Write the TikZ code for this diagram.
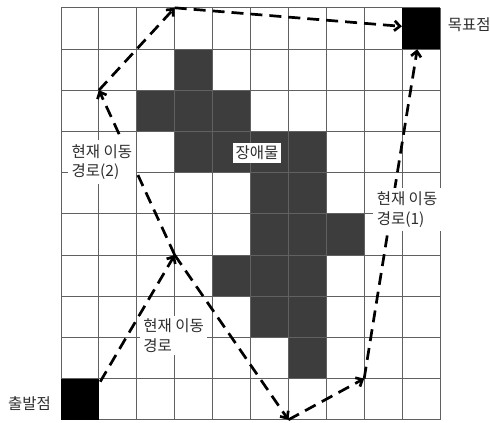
\documentclass[tikz,border=0pt]{standalone}
\usepackage{fontspec}
\newfontfamily\kofont{Noto Sans CJK KR}
\usetikzlibrary{calc,positioning,arrows.meta}
\tikzset{
   cell line/.style={draw=black!62, line width=0.9pt},
   obstacle/.style={fill=black!76},
   end cell/.style={ rectangle, fill=black, minimum width=37.9pt, minimum height=41.2pt, inner sep=0pt},
   path line/.style={->, line width=2.7pt, dash pattern=on 12pt off 7pt},
   tag/.style={ text=black!82, font=\kofont\fontsize{15.5}{19.5}\selectfont, align=left, inner sep=0pt},
   label box/.style={ tag, fill=white, inner sep=4pt},
   >={Straight Barb[length=5.5pt,width=10pt]}
}

\begin{document}
\begin{tikzpicture}[x=37.9pt,y=41.2pt]

  \useasboundingbox (-1.61,-0.073) rectangle (11.32,10.19);

  %% Obstacle cells (column/row counted from top left)
  \foreach \c/\r in {3/1, 2/2, 3/2, 4/2, 3/3, 4/3, 5/3, 6/3, 5/4, 6/4,
                     5/5, 6/5, 7/5, 4/6, 5/6, 6/6, 5/7, 6/7, 6/8}
    \fill[obstacle] (\c,{9-\r}) rectangle ++(1,1);

  %% Grid
  \foreach \i in {0,...,10} {
    \draw[cell line] (\i,0) -- (\i,10);
    \draw[cell line] (0,\i) -- (10,\i);
  }

  \node[end cell] at (0.5,0.5) (start) {};
  \node[end cell] at (9.5,9.5) (goal)  {};

  \node[tag] at (-0.83,0.39) (start label) {출발점};
  \node[tag] at (10.77,9.59) (goal label)  {목표점};

  \coordinate (cross) at (3,4);
  \coordinate (turn2a) at (1,8);
  \coordinate (turn2b) at (3,10);
  \coordinate (turn1a) at (6,0);
  \coordinate (turn1b) at (8,1);

  %% Current path
  \draw[path line] ($(start.north east)+(0.03,-0.08)$) -- (cross);

  %% Path (1)
  \draw[path line] (cross)  -- (turn1a);
  \draw[path line] (turn1a) -- (turn1b);
  \draw[path line] (turn1b) -- ($(goal.south)+(-0.1,0)$);

  %% Path (2)
  \draw[path line] (cross)  -- (turn2a);
  \draw[path line] (turn2a) -- (turn2b);
  \draw[path line] (turn2b) -- ($(goal.west)+(0,0.05)$);

  \node[label box, inner sep=3pt] at (5.17,6.48) (obstacle label) {장애물};
  \node[label box] at (1.08,6.26)  (path2 label) {현재 이동\\경로(2)};
  \node[label box] at (9.13,5.10)  (path1 label) {현재 이동\\경로(1)};
  \node[label box, inner sep=3pt] at (2.97,2.04) (path label) {현재 이동\\경로};

\end{tikzpicture}
\end{document}
